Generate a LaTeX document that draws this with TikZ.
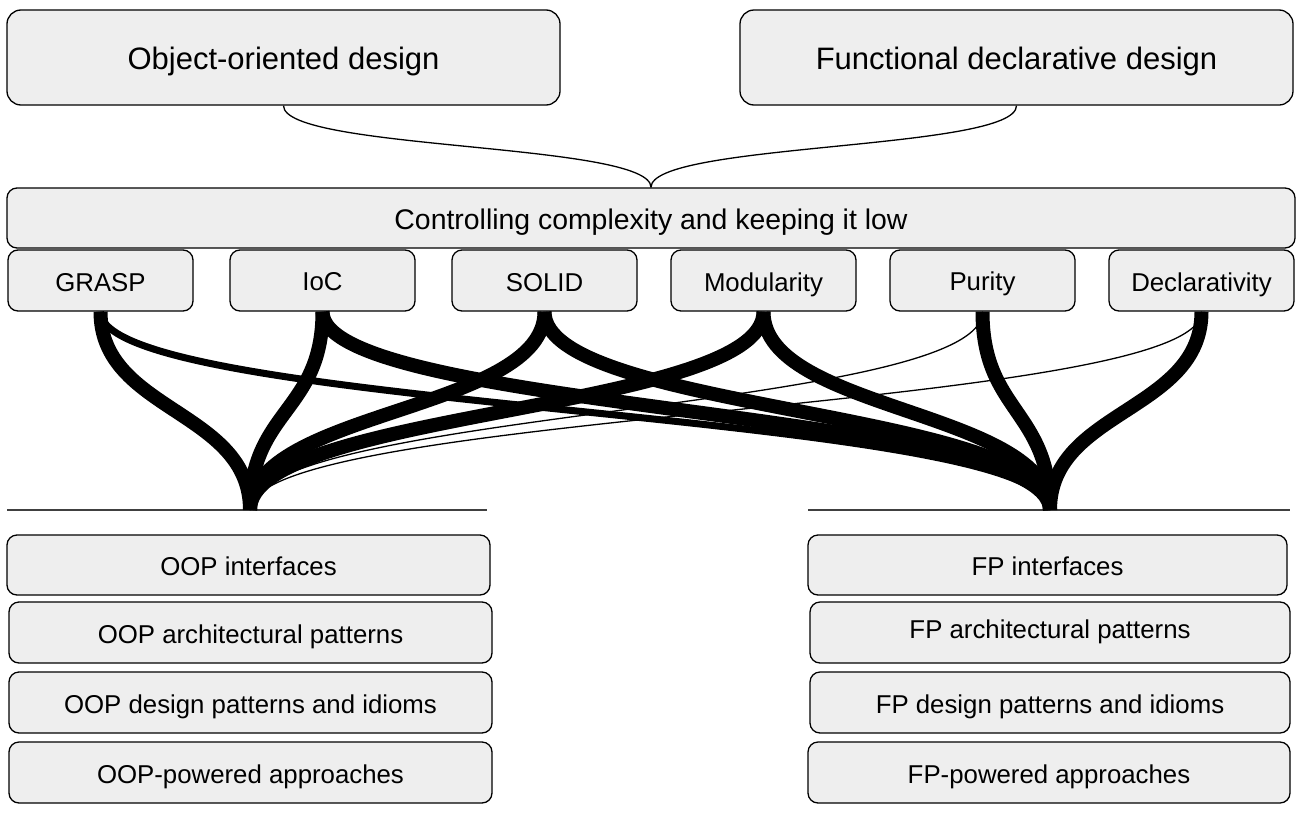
\documentclass[tikz,border=0pt]{standalone}
\usepackage{fontspec}
\setmainfont{Liberation Sans}
\usetikzlibrary{calc}
\definecolor{boxfill}{HTML}{EEEEEE}
\tikzset{
  box/.style={draw=black, line width=1.3pt, fill=boxfill, rounded corners=10pt, inner sep=0pt, align=center},
  bigbox/.style={box, rounded corners=14pt, minimum width=553pt, minimum height=95pt, font=\fontsize{31}{37}\selectfont, text height=26pt, text depth=2.4pt},
  midbox/.style={box, minimum width=1288pt, minimum height=60pt, font=\fontsize{28.4}{34}\selectfont, text height=24pt, text depth=1.2pt},
  smallbox/.style={box, minimum width=185pt, minimum height=61pt, font=\fontsize{25.8}{31}\selectfont, text height=22pt, text depth=1pt},
  lowbox/.style={box, minimum height=61pt, font=\fontsize{25.8}{31}\selectfont, text height=22pt, text depth=1pt},
  heavy/.style={line width=14pt, black},
  medium/.style={line width=7pt, black},
  light/.style={line width=1.3pt, black},
  baseline/.style={line width=1.5pt, black!75}
}
\newcommand{\linkedge}[3]{%
  \draw[#1] (#2.south) .. controls ($(#2.south)+(0,100)$) and ($(#3)+(0,-100)$) .. (#3);}
\begin{document}
\begin{tikzpicture}[x=1pt,y=-1pt]
\useasboundingbox (0,0) rectangle (1303,814);
% top
\node[bigbox] (ood) at (283.5,57.5) {Object-oriented design};
\node[bigbox] (fdd) at (1016.5,57.5) {Functional declarative design};
\node[midbox] (mid) at (651,218) {Controlling complexity and keeping it low};
% principles
\node[smallbox] (grasp) at (100.5,280.5) {GRASP};
\node[smallbox] (ioc) at (322.5,280.5) {\raisebox{1pt}{IoC}};
\node[smallbox] (solid) at (544.5,280.5) {SOLID};
\node[smallbox] (modul) at (763.5,280.5) {Modularity};
\node[smallbox] (purity) at (982.5,280.5) {\raisebox{1pt}{Purity}};
\node[smallbox] (decl) at (1201.5,280.5) {Declarativity};
% hubs
\coordinate (hubL) at (250,510);
\coordinate (hubR) at (1050,510);
\coordinate (lineLa) at (7,510);
\coordinate (lineLb) at (487,510);
\coordinate (lineRa) at (808,510);
\coordinate (lineRb) at (1290,510);
\draw[baseline] (lineLa) -- (lineLb);
\draw[baseline] (lineRa) -- (lineRb);
% bottom left
\node[lowbox, minimum width=483pt, minimum height=60pt] (oopi) at (248.5,565) {OOP interfaces};
\node[lowbox, minimum width=483pt] (oopa) at (250.5,632.5) {OOP architectural patterns};
\node[lowbox, minimum width=483pt] (oopd) at (250.5,702.5) {OOP design patterns and idioms};
\node[lowbox, minimum width=483pt] (oopp) at (250.5,772.5) {OOP-powered approaches};
% bottom right
\node[lowbox, minimum width=479pt, minimum height=60pt] (fpi) at (1047.5,565) {FP interfaces};
\node[lowbox, minimum width=480pt] (fpa) at (1050,632.5) {\raisebox{5pt}{FP architectural patterns}};
\node[lowbox, minimum width=480pt] (fpd) at (1050,702.5) {FP design patterns and idioms};
\node[lowbox, minimum width=482pt] (fpp) at (1049,772.5) {FP-powered approaches};
% top connectors
\draw[light] (ood.south) .. controls ($(ood.south)+(0,45)$) and ($(mid.north)+(0,-45)$) .. (mid.north);
\draw[light] (fdd.south) .. controls ($(fdd.south)+(0,45)$) and ($(mid.north)+(0,-45)$) .. (mid.north);
% principle connectors
\linkedge{medium}{grasp}{hubR}
\linkedge{heavy}{grasp}{hubL}
\linkedge{heavy}{ioc}{hubL}
\linkedge{heavy}{ioc}{hubR}
\linkedge{heavy}{solid}{hubL}
\linkedge{heavy}{solid}{hubR}
\linkedge{heavy}{modul}{hubL}
\linkedge{heavy}{modul}{hubR}
\linkedge{light}{purity}{hubL}
\linkedge{heavy}{purity}{hubR}
\linkedge{light}{decl}{hubL}
\linkedge{heavy}{decl}{hubR}
\end{tikzpicture}
\end{document}
